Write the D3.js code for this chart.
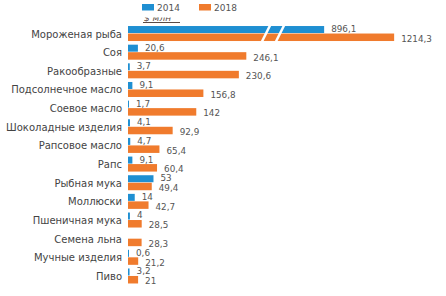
<!DOCTYPE html>
<html>
<head>
<meta charset="utf-8">
<script src="https://cdn.jsdelivr.net/npm/d3@7/dist/d3.min.js"></script>
<style>
  body { margin: 0; background: #fff; }
  text { font-family: "DejaVu Sans", sans-serif; }
</style>
</head>
<body>
<div id="graph"></div>
<script>
// Data
const categories = ['Мороженая рыба', 'Соя', 'Ракообразные', 'Подсолнечное масло', 'Соевое масло',
  'Шоколадные изделия', 'Рапсовое масло', 'Рапс', 'Рыбная мука', 'Моллюски',
  'Пшеничная мука', 'Семена льна', 'Мучные изделия', 'Пиво']
const values2014 = [896.1, 20.6, 3.7, 9.1, 1.7, 4.1, 4.7, 9.1, 53, 14, 4, null, 0.6, 3.2]
const values2018 = [1214.3, 246.1, 230.6, 156.8, 142, 92.9, 65.4, 60.4, 49.4, 42.7, 28.5, 28.3, 21.2, 21]
const years = ['2014', '2018']
const unitLabel = '$ млн'

const colors = { '2014': '#1f8fd2', '2018': '#f07b2d' }

const total_width = 446
const total_height = 296

const svg = d3.select('#graph').append('svg')
  .attr('width', total_width)
  .attr('height', total_height)

// broken axis: first segment is linear, the long bar jumps over the gap
const x = d3.scaleLinear()
  .domain([0, 260, 700, 1300])
  .range([128, 253, 281, 413])

const y = d3.scaleBand()
  .domain(categories)
  .range([24.2, 285.3])

const barH = 7.5
const fmt = v => String(v).replace('.', ',')

// legend
const legend = svg.append('g')
years.forEach((yr, i) => {
  const lx = 142 + i * 57
  legend.append('rect')
    .attr('x', lx).attr('y', 4)
    .attr('width', 12).attr('height', 6.5)
    .attr('fill', colors[yr])
  legend.append('text')
    .attr('x', lx + 15).attr('y', 11)
    .attr('font-size', 9)
    .attr('fill', '#555')
    .text(yr)
})

// unit caption, half cut off like in the scan
svg.append('clipPath').attr('id', 'unitclip')
  .append('rect').attr('x', 130).attr('y', 17.5).attr('width', 70).attr('height', 8)
svg.append('text')
  .attr('clip-path', 'url(#unitclip)')
  .attr('x', 144).attr('y', 21)
  .attr('font-size', 9)
  .attr('font-style', 'italic')
  .attr('fill', '#5a4a44')
  .text(unitLabel)
svg.append('line')
  .attr('x1', 143).attr('x2', 180)
  .attr('y1', 22.5).attr('y2', 22.5)
  .attr('stroke', '#5a4a44').attr('stroke-width', 1)

const rows = categories.map((c, i) => ({ cat: c, v14: values2014[i], v18: values2018[i] }))

const g = svg.append('g')

// category labels
g.selectAll('.cat')
  .data(rows)
  .enter()
  .append('text')
  .attr('class', 'cat')
  .attr('x', 122)
  .attr('y', d => y(d.cat) + y.bandwidth() / 2 + 0.5)
  .attr('text-anchor', 'end')
  .attr('dominant-baseline', 'central')
  .attr('font-size', 10)
  .attr('fill', '#444')
  .text(d => d.cat)

// 2014 bars
const r14 = rows.filter(d => d.v14 !== null)
g.selectAll('.b14')
  .data(r14)
  .enter()
  .append('rect')
  .attr('class', 'b14')
  .attr('x', x(0))
  .attr('y', d => y(d.cat) + y.bandwidth() / 2 - barH)
  .attr('width', d => Math.max(1, x(d.v14) - x(0)))
  .attr('height', barH - 0.5)
  .attr('fill', colors['2014'])

// 2018 bars
g.selectAll('.b18')
  .data(rows)
  .enter()
  .append('rect')
  .attr('class', 'b18')
  .attr('x', x(0))
  .attr('y', d => y(d.cat) + y.bandwidth() / 2)
  .attr('width', d => x(d.v18) - x(0))
  .attr('height', barH)
  .attr('fill', colors['2018'])

// value labels
g.selectAll('.l14')
  .data(r14)
  .enter()
  .append('text')
  .attr('class', 'l14')
  .attr('x', d => Math.max(x(d.v14), x(0) + 1) + 7)
  .attr('y', d => y(d.cat) + y.bandwidth() / 2 - barH / 2 - 0.8)
  .attr('dominant-baseline', 'central')
  .attr('font-size', 8.8)
  .attr('fill', '#555')
  .text(d => fmt(d.v14))

g.selectAll('.l18')
  .data(rows)
  .enter()
  .append('text')
  .attr('class', 'l18')
  .attr('x', d => x(d.v18) + 7)
  .attr('y', d => y(d.cat) + y.bandwidth() / 2 + barH / 2 + 1.6)
  .attr('dominant-baseline', 'central')
  .attr('font-size', 8.8)
  .attr('fill', '#555')
  .text(d => fmt(d.v18))

// break marks over the long bar
const breakTop = y(categories[0]) + y.bandwidth() / 2 - barH - 0.5
const breakBottom = y(categories[0]) + y.bandwidth() / 2 + barH + 0.5
;[262, 276].forEach(bx => {
  g.append('line')
    .attr('x1', bx).attr('y1', breakBottom)
    .attr('x2', bx + 8).attr('y2', breakTop)
    .attr('stroke', '#fff')
    .attr('stroke-width', 2.5)
})
</script>
</body>
</html>
